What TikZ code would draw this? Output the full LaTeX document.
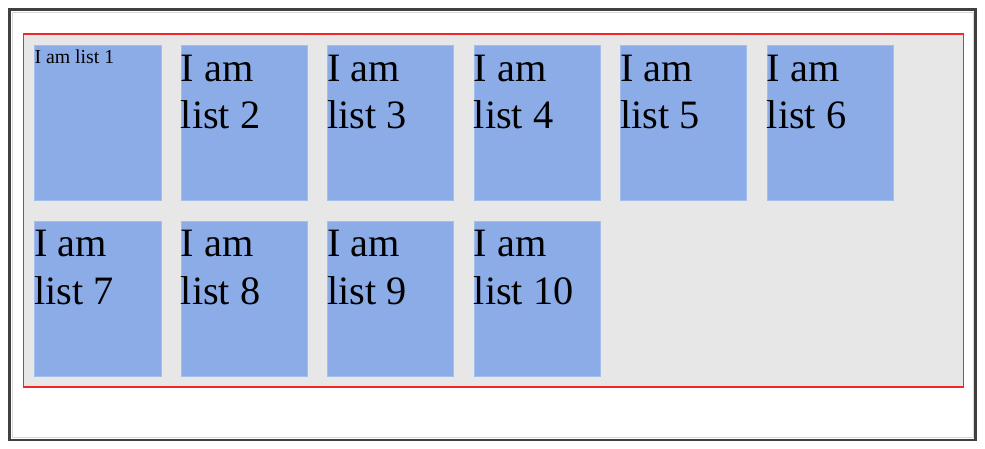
\documentclass[tikz,border=0pt]{standalone}
\usepackage{fontspec}
\setmainfont{Liberation Serif}
\definecolor{framedark}{HTML}{404040}
\definecolor{framelight}{HTML}{D8D8D8}
\definecolor{panelbg}{HTML}{E7E7E7}
\definecolor{panelred}{HTML}{F02828}
\definecolor{listblue}{HTML}{8CACE8}
\tikzset{
  listbox/.style={fill=listblue, draw=listblue!80!white, line width=0.6pt, minimum width=126.3pt, minimum height=155pt, inner sep=0pt, anchor=north west},
  bigtext/.style={anchor=north west, inner sep=0pt, align=left, font=\fontsize{40.3}{47.3}\selectfont},
  smalltext/.style={anchor=north west, inner sep=0pt, align=left, font=\fontsize{19.8}{23}\selectfont},
}
\newcommand{\bigfirst}{\rule{0pt}{36pt}}
\newcommand{\smallfirst}{\rule{0pt}{18.3pt}}
\begin{document}
\begin{tikzpicture}[x=1pt,y=-1pt]
\useasboundingbox (0,0) rectangle (985,449);
\fill[white] (0,0) rectangle (985,449);
\draw[framedark, line width=2.5pt] (9.5,9.5) rectangle (975.5,439.8);
\draw[framelight, line width=0.8pt] (12.5,12.5) rectangle (973.2,437.2);
\fill[panelbg] (23.5,34) rectangle (963.5,386.9);
\draw[draw=panelred, line width=1.7pt] (23.4,34) rectangle (963.4,386.9);
% row 1
\node[listbox] (b1) at (34.3,45) {};
\node[listbox] (b2) at (180.7,45) {};
\node[listbox] (b3) at (327.1,45) {};
\node[listbox] (b4) at (473.6,45) {};
\node[listbox] (b5) at (620.1,45) {};
\node[listbox] (b6) at (766.6,45) {};
% row 2
\node[listbox] (b7) at (34.3,220.7) {};
\node[listbox] (b8) at (180.7,220.7) {};
\node[listbox] (b9) at (327.1,220.7) {};
\node[listbox] (b10) at (473.6,220.7) {};
% texts
\node[smalltext] (t1) at (b1.north west) {\smallfirst I am list 1};
\node[bigtext] (t2) at (b2.north west) {\bigfirst I am\\list 2};
\node[bigtext] (t3) at (b3.north west) {\bigfirst I am\\list 3};
\node[bigtext] (t4) at (b4.north west) {\bigfirst I am\\list 4};
\node[bigtext] (t5) at (b5.north west) {\bigfirst I am\\list 5};
\node[bigtext] (t6) at (b6.north west) {\bigfirst I am\\list 6};
\node[bigtext] (t7) at (b7.north west) {\bigfirst I am\\list 7};
\node[bigtext] (t8) at (b8.north west) {\bigfirst I am\\list 8};
\node[bigtext] (t9) at (b9.north west) {\bigfirst I am\\list 9};
\node[bigtext] (t10) at (b10.north west) {\bigfirst I am\\list 10};
\end{tikzpicture}
\end{document}
